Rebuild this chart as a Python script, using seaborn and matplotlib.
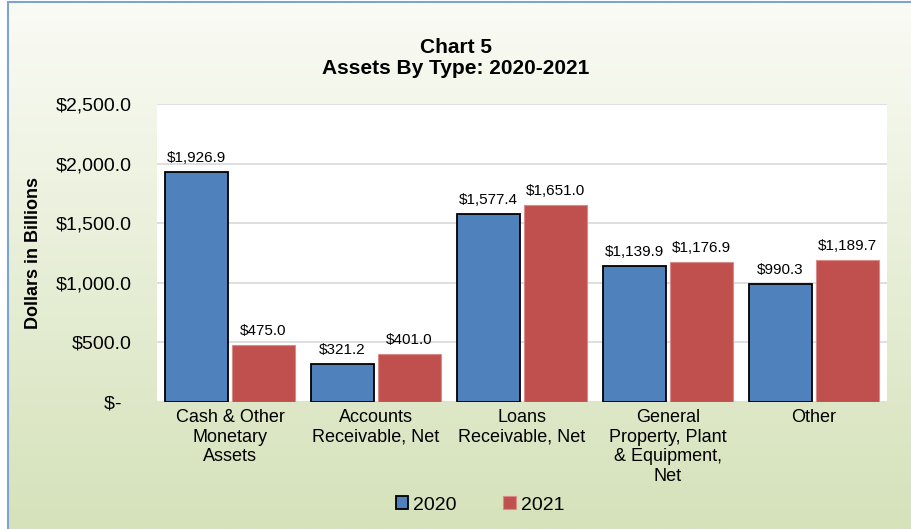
import numpy as np
import pandas as pd
import matplotlib.pyplot as plt
import seaborn as sns
from matplotlib.patches import Patch, Rectangle

# data
categories = ["Cash & Other\nMonetary\nAssets", "Accounts\nReceivable, Net",
              "Loans\nReceivable, Net", "General\nProperty, Plant\n& Equipment,\nNet", "Other"]
years = ["2020", "2021"]
values_2020 = [1926.9, 321.2, 1577.4, 1139.9, 990.3]
values_2021 = [475.0, 401.0, 1651.0, 1176.9, 1189.7]
yticks = [0, 500, 1000, 1500, 2000, 2500]
ytick_labels = ["$-  ", "$500.0", "$1,000.0", "$1,500.0", "$2,000.0", "$2,500.0"]

df = pd.DataFrame({
    "Category": categories * 2,
    "Year": ["2020"] * 5 + ["2021"] * 5,
    "Value": values_2020 + values_2021,
})

sns.set_theme(style="white")
plt.rcParams['font.family'] = ['Liberation Sans', 'DejaVu Sans']
plt.rcParams['text.color'] = 'black'
plt.rcParams['xtick.color'] = 'black'
plt.rcParams['ytick.color'] = 'black'
plt.rcParams['axes.labelcolor'] = 'black'

fig = plt.figure(figsize=(9.11, 5.29), dpi=100)

# gradient background with border
bg = fig.add_axes([9 / 911, 0, 1 - 9 / 911, 1 - 3 / 529], zorder=-2)
top = np.array([250, 251, 245]) / 255
bot = np.array([213, 226, 186]) / 255
t = np.linspace(0, 1, 256)[:, None]
grad = (top[None, :] * (1 - t) + bot[None, :] * t)[:, None, :]
bg.imshow(grad, aspect="auto", extent=[0, 1, 0, 1])
bg.set_xlim(0, 1)
bg.set_ylim(0, 1)
bg.axis("off")
fig.patches.append(Rectangle((8 / 911, -0.01), 1.1, 1 - 2 / 529 + 0.01, transform=fig.transFigure,
                             fill=False, edgecolor="#7FA3CF", linewidth=1.5, zorder=-1))

ax = fig.add_axes([157 / 911, 1 - 402 / 529, (887 - 157) / 911, (402 - 104) / 529])
sns.barplot(data=df, x="Category", y="Value", hue="Year", palette=["#4F81BD", "#C0504D"],
            saturation=1, width=0.92, gap=0.06, legend=False, ax=ax)

for p in ax.containers[0]:
    p.set_edgecolor("black")
    p.set_linewidth(1.3)
for p in ax.containers[1]:
    p.set_edgecolor("#D98B89")
    p.set_linewidth(0.8)

ax.bar_label(ax.containers[0], labels=[f"${v:,.1f}" for v in values_2020], padding=5, fontsize=11)
ax.bar_label(ax.containers[1], labels=[f"${v:,.1f}" for v in values_2021], padding=5, fontsize=11)

ax.set_ylim(0, 2500)
ax.set_xlim(-0.5, 4.5)
ax.set_yticks(yticks)
ax.set_yticklabels(ytick_labels, fontsize=14)
ax.tick_params(axis="y", pad=18, length=0)
ax.tick_params(axis="x", pad=5, length=0, labelsize=13)
ax.yaxis.grid(True, color="#D9D9D9", linewidth=1.2)
ax.set_axisbelow(True)
for s in ax.spines.values():
    s.set_visible(False)
ax.set_xlabel("")
ax.set_ylabel("Dollars in Billions", fontsize=13, fontweight="bold")
ax.yaxis.set_label_coords(-115 / 730, 0.5)

fig.text(456 / 911, 1 - 58 / 529, "Chart 5\nAssets By Type: 2020-2021", ha="center", va="center",
         fontsize=15, fontweight="bold", linespacing=1.15)

handles = [Patch(facecolor="#4F81BD", edgecolor="black", linewidth=1.3),
           Patch(facecolor="#C0504D", edgecolor="#D98B89", linewidth=0.8)]
fig.legend(handles, years, loc="center", bbox_to_anchor=(480 / 911, 1 - 505 / 529), ncol=2,
           frameon=False, fontsize=14, handlelength=0.65, handleheight=0.65,
           handletextpad=0.25, columnspacing=2.4)

fig.savefig("out.png", dpi=100)
